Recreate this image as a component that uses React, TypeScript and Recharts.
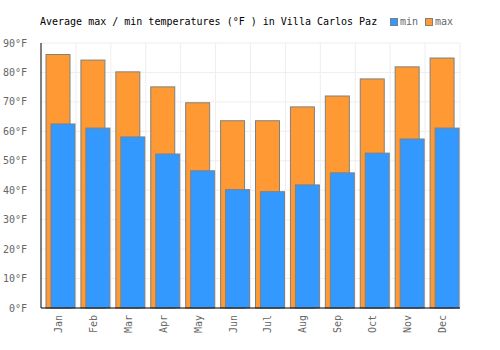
import React from "react";
import { BarChart, Bar, XAxis, YAxis, CartesianGrid } from "recharts";

// ─── Data ────────────────────────────────────────────────────────────────────

const MONTHS = ["Jan", "Feb", "Mar", "Apr", "May", "Jun", "Jul", "Aug", "Sep", "Oct", "Nov", "Dec"];
const MIN_TEMPS = [62.5, 61.1, 58.1, 52.3, 46.6, 40.2, 39.5, 41.8, 45.9, 52.6, 57.4, 61.1];
const MAX_TEMPS = [86.1, 84.2, 80.2, 75.1, 69.7, 63.6, 63.6, 68.3, 72.0, 77.8, 81.9, 84.9];
const Y_TICKS = [0, 10, 20, 30, 40, 50, 60, 70, 80, 90];
const SERIES = [
  { key: "min", color: "#3399ff" },
  { key: "max", color: "#ff9933" },
];

const data = MONTHS.map((m, i) => ({ month: m, min: MIN_TEMPS[i], max: MAX_TEMPS[i] }));

const FONT = "'DejaVu Sans Mono', monospace";
const BORDER = "#808080";

// bars are shifted slightly right of the centered group, like the original
const shiftedBar = (props: any) => (
  <rect
    x={props.x + 2}
    y={props.y}
    width={props.width}
    height={props.height}
    fill={props.fill}
    stroke={BORDER}
    strokeWidth={1}
  />
);

const MonthTick = (props: any) => {
  const { x, y, payload } = props;
  const ty = y - 1;
  return (
    <text
      x={x}
      y={ty}
      transform={`rotate(-90, ${x}, ${ty})`}
      textAnchor="end"
      dominantBaseline="central"
      fontFamily={FONT}
      fontSize={10}
      fill="#666"
    >
      {payload.value}
    </text>
  );
};

export default function App() {
  return (
    <div style={{ position: "absolute", left: 0, top: 0, width: 500, height: 350, background: "#fff" }}>
      <div
        style={{
          position: "absolute",
          left: 40,
          top: 16,
          fontFamily: FONT,
          fontSize: 10,
          color: "#000",
          whiteSpace: "pre",
          lineHeight: "12px",
        }}
      >
        Average max / min temperatures (°F ) in Villa Carlos Paz
      </div>
      <div
        style={{
          position: "absolute",
          left: 390,
          top: 16,
          display: "flex",
          alignItems: "center",
          fontFamily: FONT,
          fontSize: 10,
          color: "#666",
          lineHeight: "12px",
        }}
      >
        {SERIES.map((s) => (
          <span key={s.key} style={{ display: "flex", alignItems: "center", marginRight: 7 }}>
            <span
              style={{
                display: "inline-block",
                width: 6,
                height: 6,
                background: s.color,
                border: `1px solid ${BORDER}`,
                marginRight: 2,
              }}
            />
            {s.key}
          </span>
        ))}
      </div>
      <BarChart
        width={500}
        height={350}
        data={data}
        margin={{ top: 43, right: 40, bottom: 0, left: 0 }}
        barSize={24}
        barGap={-19}
        style={{ position: "absolute", left: 0, top: 0 }}
      >
        <CartesianGrid
          stroke="#eeeeee"
          verticalCoordinatesGenerator={({ offset }: any) =>
            MONTHS.map((_, i) => offset.left + ((i + 1) * offset.width) / MONTHS.length)
          }
        />
        <XAxis
          dataKey="month"
          height={42}
          axisLine={{ stroke: "#000" }}
          tickLine={false}
          interval={0}
          tick={<MonthTick />}
        />
        <YAxis
          width={41}
          domain={[0, 90]}
          ticks={Y_TICKS}
          tickFormatter={(v: number) => `${v}°F`}
          axisLine={{ stroke: "#000" }}
          tickLine={false}
          tickMargin={8}
          tick={{ fontFamily: FONT, fontSize: 10, fill: "#666" }}
        />
        <Bar isAnimationActive={false} dataKey="max" name="max" fill={SERIES[1].color} shape={shiftedBar} />
        <Bar isAnimationActive={false} dataKey="min" name="min" fill={SERIES[0].color} shape={shiftedBar} />
      </BarChart>
    </div>
  );
}
